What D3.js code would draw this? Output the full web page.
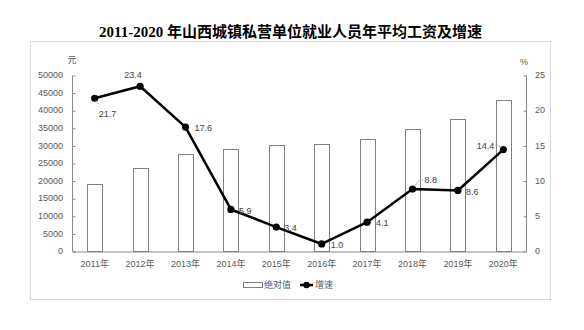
<!DOCTYPE html>
<html>
<head>
<meta charset="utf-8">
<script src="https://cdn.jsdelivr.net/npm/d3@7"></script>
<style>
  html, body { margin: 0; padding: 0; background: #fff; }
  svg { display: block; }
</style>
</head>
<body>
<script>
// Chart data: average annual wage (yuan) and growth rate (%)
const years = ["2011年", "2012年", "2013年", "2014年", "2015年", "2016年", "2017年", "2018年", "2019年", "2020年"];
const wages = [18950, 23490, 27560, 29070, 30110, 30400, 31720, 34570, 37500, 42900];
const growth = [21.7, 23.4, 17.6, 5.9, 3.4, 1.0, 4.1, 8.8, 8.6, 14.4];
const leftTicks = [0, 5000, 10000, 15000, 20000, 25000, 30000, 35000, 40000, 45000, 50000];
const rightTicks = [0, 5, 10, 15, 20, 25];
const titleText = "2011-2020 年山西城镇私营单位就业人员年平均工资及增速";
const legendNames = ["绝对值", "增速"];

const W = 584, H = 330;
const plot = { left: 72, right: 526, top: 75, bottom: 251 };
const fontFamily = "'Liberation Sans', 'Noto Sans CJK SC', sans-serif";
const axisColor = "#898989";
const tickText = "#595959";

const svg = d3.select("body").append("svg")
  .attr("width", W).attr("height", H);

svg.append("rect").attr("width", W).attr("height", H).attr("fill", "#fff");

// Title
svg.append("text")
  .attr("x", 290.5).attr("y", 37)
  .attr("text-anchor", "middle")
  .attr("font-family", "'Liberation Serif', 'Noto Sans CJK SC', serif")
  .attr("font-weight", "bold")
  .attr("font-size", 15)
  .attr("fill", "#000")
  .text(titleText);

// Chart frame
svg.append("rect")
  .attr("x", 30.5).attr("y", 41.5)
  .attr("width", 520).attr("height", 258)
  .attr("fill", "none").attr("stroke", "#d9d9d9").attr("stroke-width", 1);

const x = d3.scaleBand().domain(years).range([plot.left, plot.right]).padding(0);
const yL = d3.scaleLinear().domain([0, 50000]).range([plot.bottom, plot.top]);
const yR = d3.scaleLinear().domain([0, 25]).range([plot.bottom, plot.top]);
const barW = x.bandwidth() * 0.33;
const cx = d => x(d) + x.bandwidth() / 2;

// Bars
svg.append("g").selectAll("rect").data(years).join("rect")
  .attr("x", (d) => Math.round(cx(d) - barW / 2) + 0.5)
  .attr("y", (d, i) => Math.round(yL(wages[i])) + 0.5)
  .attr("width", Math.round(barW))
  .attr("height", (d, i) => Math.round(yL(0)) - Math.round(yL(wages[i])))
  .attr("fill", "#fff")
  .attr("stroke", "#7f7f7f")
  .attr("stroke-width", 1);

// Left axis
const axL = svg.append("g").attr("transform", `translate(${plot.left + 0.5},0.5)`)
  .call(d3.axisRight(yL).tickValues(leftTicks).tickSize(3).tickFormat(""));
axL.select(".domain").attr("d", `M0,${Math.round(plot.top)}V${Math.round(plot.bottom)}`);
axL.selectAll("line").attr("stroke", axisColor);
axL.select(".domain").attr("stroke", axisColor);
svg.append("g").selectAll("text").data(leftTicks).join("text")
  .attr("x", 63).attr("y", d => yL(d))
  .attr("dy", "0.35em").attr("text-anchor", "end")
  .attr("font-family", fontFamily).attr("font-size", 9).attr("fill", tickText)
  .text(d => d);

// Right axis
const axR = svg.append("g").attr("transform", `translate(${plot.right + 0.5},0.5)`)
  .call(d3.axisLeft(yR).tickValues(rightTicks).tickSize(3).tickFormat(""));
axR.select(".domain").attr("d", `M0,${Math.round(plot.top)}V${Math.round(plot.bottom)}`);
axR.selectAll("line").attr("stroke", axisColor);
axR.select(".domain").attr("stroke", axisColor);
svg.append("g").selectAll("text").data(rightTicks).join("text")
  .attr("x", 535).attr("y", d => yR(d))
  .attr("dy", "0.35em").attr("text-anchor", "start")
  .attr("font-family", fontFamily).attr("font-size", 9).attr("fill", tickText)
  .text(d => d);

// Bottom axis
const axB = svg.append("g").attr("transform", `translate(0,${Math.round(plot.bottom) + 0.5})`)
  .call(d3.axisBottom(x).tickSize(0).tickPadding(9));
axB.select(".domain").attr("stroke", axisColor);
axB.selectAll("text").attr("font-family", fontFamily).attr("font-size", 9).attr("fill", tickText);

// Axis units
svg.append("text").attr("x", 72).attr("y", 63).attr("text-anchor", "middle")
  .attr("font-family", fontFamily).attr("font-size", 9).attr("fill", tickText).text("元");
svg.append("text").attr("x", 524).attr("y", 65).attr("text-anchor", "middle")
  .attr("font-family", fontFamily).attr("font-size", 9).attr("fill", tickText).text("%");

// Growth line
const line = d3.line().x((d, i) => cx(years[i])).y(d => yR(d));
svg.append("path").datum(growth)
  .attr("d", line).attr("fill", "none")
  .attr("stroke", "#000").attr("stroke-width", 2.5).attr("stroke-linejoin", "round");
svg.append("g").selectAll("circle").data(growth).join("circle")
  .attr("cx", (d, i) => cx(years[i])).attr("cy", d => yR(d))
  .attr("r", 3.6).attr("fill", "#000");

// Data labels: offsets relative to each point
const labelPos = [
  { dx: 4, dy: 16, anchor: "start", leader: [[1, 2], [4, 6]] },
  { dx: -7, dy: -11, anchor: "middle" },
  { dx: 9, dy: 1, anchor: "start" },
  { dx: 8, dy: 1, anchor: "start" },
  { dx: 8, dy: 1, anchor: "start" },
  { dx: 9, dy: 1, anchor: "start" },
  { dx: 9, dy: 1, anchor: "start" },
  { dx: 12, dy: -9, anchor: "start", leader: [[2, -3], [7, -9], [11, -9]] },
  { dx: 8, dy: 1, anchor: "start" },
  { dx: -9, dy: -4, anchor: "end", leader: [[-2, -2], [-5, -4], [-8, -4]] }
];
const lab = svg.append("g");
growth.forEach((v, i) => {
  const px = cx(years[i]), py = yR(v), p = labelPos[i];
  if (p.leader) {
    lab.append("path")
      .attr("d", "M" + p.leader.map(q => [px + q[0], py + q[1]].join(",")).join("L"))
      .attr("fill", "none").attr("stroke", "#a6a6a6").attr("stroke-width", 0.8);
  }
  lab.append("text")
    .attr("x", px + p.dx).attr("y", py + p.dy)
    .attr("dy", "0.35em").attr("text-anchor", p.anchor)
    .attr("font-family", fontFamily).attr("font-size", 9).attr("fill", "#404040")
    .text(v.toFixed(1));
});

// Legend
const lg = svg.append("g");
lg.append("rect").attr("x", 243.5).attr("y", 282.5).attr("width", 19).attr("height", 5)
  .attr("fill", "#fff").attr("stroke", "#7f7f7f").attr("stroke-width", 1);
lg.append("text").attr("x", 264).attr("y", 285).attr("dy", "0.35em")
  .attr("font-family", fontFamily).attr("font-size", 9).attr("fill", tickText).text(legendNames[0]);
lg.append("line").attr("x1", 300).attr("x2", 313).attr("y1", 285).attr("y2", 285)
  .attr("stroke", "#000").attr("stroke-width", 2.5);
lg.append("circle").attr("cx", 306.5).attr("cy", 285).attr("r", 3.2).attr("fill", "#000");
lg.append("text").attr("x", 315).attr("y", 285).attr("dy", "0.35em")
  .attr("font-family", fontFamily).attr("font-size", 9).attr("fill", tickText).text(legendNames[1]);
</script>
</body>
</html>
